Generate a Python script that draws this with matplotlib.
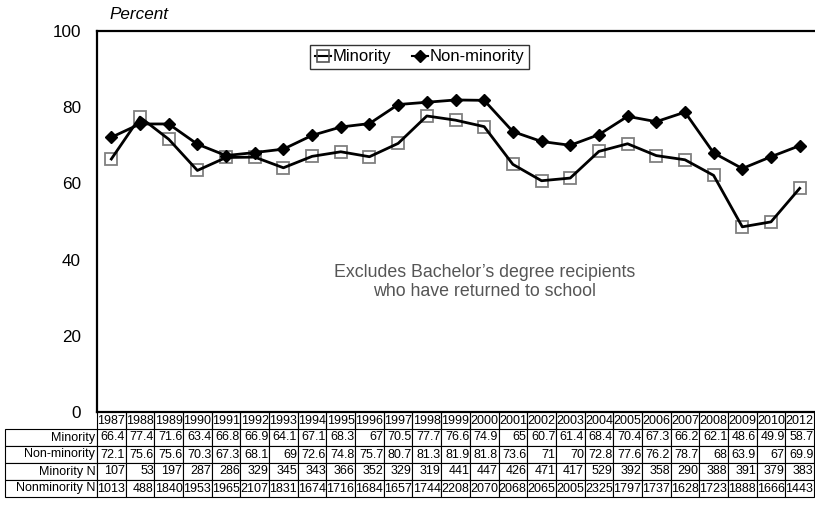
import matplotlib
matplotlib.use("Agg")
import matplotlib.pyplot as plt
import numpy as np

plt.rcParams['font.family'] = ['Liberation Sans', 'DejaVu Sans']

# data
years = ["1987", "1988", "1989", "1990", "1991", "1992", "1993", "1994", "1995", "1996",
         "1997", "1998", "1999", "2000", "2001", "2002", "2003", "2004", "2005", "2006",
         "2007", "2008", "2009", "2010", "2012"]
minority = [66.4, 77.4, 71.6, 63.4, 66.8, 66.9, 64.1, 67.1, 68.3, 67, 70.5, 77.7, 76.6,
            74.9, 65, 60.7, 61.4, 68.4, 70.4, 67.3, 66.2, 62.1, 48.6, 49.9, 58.7]
nonminority = [72.1, 75.6, 75.6, 70.3, 67.3, 68.1, 69, 72.6, 74.8, 75.7, 80.7, 81.3, 81.9,
               81.8, 73.6, 71, 70, 72.8, 77.6, 76.2, 78.7, 68, 63.9, 67, 69.9]
minority_n = [107, 53, 197, 287, 286, 329, 345, 343, 366, 352, 329, 319, 441, 447, 426,
              471, 417, 529, 392, 358, 290, 388, 391, 379, 383]
nonminority_n = [1013, 488, 1840, 1953, 1965, 2107, 1831, 1674, 1716, 1684, 1657, 1744,
                 2208, 2070, 2068, 2065, 2005, 2325, 1797, 1737, 1628, 1723, 1888, 1666, 1443]
row_labels = ["Minority", "Non-minority", "Minority N", "Nonminority N"]

x = np.arange(len(years))

fig = plt.figure(figsize=(8.15, 5.05), dpi=100)
ax = fig.add_axes([97/815, 93/505, 717/815, 381/505])

# minority: hollow grey squares under a black line
ax.plot(x, minority, ls="none", marker="s", ms=8.5, mfc="none", mec="#808080", mew=1.3, zorder=2)
ax.plot(x, minority, color="black", lw=2.0, zorder=3)
ax.plot(x, nonminority, color="black", lw=2.0, marker="D", ms=6.5, mfc="black", mec="black", zorder=4)

# legend proxies
h1, = ax.plot([], [], color="black", lw=1.5, marker="s", ms=8, mfc="none", mec="#555555", mew=1.2)
h2, = ax.plot([], [], color="black", lw=1.5, marker="D", ms=6, mfc="black")
leg = ax.legend([h1, h2], ["Minority", "Non-minority"], ncol=2, loc="center",
                bbox_to_anchor=(0.45, 0.932), fontsize=12, frameon=True, fancybox=False,
                handlelength=1.0, handletextpad=0.1, columnspacing=1.2, borderpad=0.25,
                borderaxespad=0)
leg.get_frame().set_edgecolor("black")
leg.get_frame().set_linewidth(1.0)

ax.text(0.541, 0.341, "Excludes Bachelor\u2019s degree recipients\nwho have returned to school",
        transform=ax.transAxes, ha="center", va="center", fontsize=12.8, color="#555555",
        linespacing=1.15)

ax.set_xlim(-0.5, len(years) - 0.5)
ax.set_ylim(0, 100)
ax.set_yticks([0, 20, 40, 60, 80, 100])
ax.set_xticks([])
ax.tick_params(axis="y", length=0, pad=11.5, labelsize=12.3)
for s in ["left", "top", "bottom"]:
    ax.spines[s].set_linewidth(1.6)
ax.spines["right"].set_visible(False)

ax.text(0.018, 1.042, "Percent", transform=ax.transAxes, fontsize=12.3, style="italic",
        ha="left", va="center")

# data table below the axis
cells = [[""] + years]
cells.append(["Minority"] + [f"{v:g}" for v in minority])
cells.append(["Non-minority"] + [f"{v:g}" for v in nonminority])
cells.append(["Minority N"] + [str(v) for v in minority_n])
cells.append(["Nonminority N"] + [str(v) for v in nonminority_n])

x0 = (5 - 97) / 717
tab = ax.table(cellText=cells, bbox=[x0, -85/381, 1 - x0, 85/381], cellLoc="right")
tab.auto_set_font_size(False)
lab_w = 92 / 717
col_w = 1 / len(years)
for (r, c), cell in tab.get_celld().items():
    cell.set_width(lab_w if c == 0 else col_w)
    cell.set_linewidth(0.8)
    cell.PAD = 0.02
    cell.get_text().set_fontsize(9)
    if r == 0:
        cell.visible_edges = "open" if c == 0 else "LR"
        if c > 0:
            cell.get_text().set_horizontalalignment("center")
            cell._loc = "center"
    else:
        cell.visible_edges = "closed"

fig.savefig("out.png", dpi=100)
